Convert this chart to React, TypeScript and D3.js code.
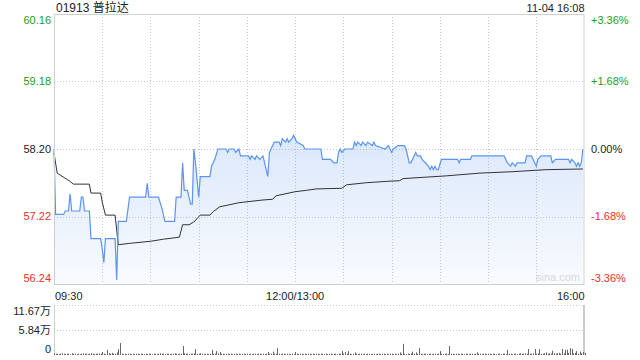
import React from "react";
import * as d3 from "d3";

const title = "01913 普拉达";
const stamp = "11-04 16:08";
const priceTicks = [60.16, 59.18, 58.2, 57.22, 56.24];
const pctTicks = ["+3.36%", "+1.68%", "0.00%", "-1.68%", "-3.36%"];
const timeLabelMinutes = [0, 150, 330];
const timeLabels = ["09:30", "12:00/13:00", "16:00"];
const volTickValues = [116700, 58400, 0];
const volTickLabels = ["11.67万", "5.84万", "0"];

// minute offsets (trading minutes since 09:30) and last prices
const priceMinutes = [0,1,6,7,9,10,11,16,17,18,19,22,23,29,30,31,32,38,39,40,45,47,57,58,59,65,67,69,75,76,79,80,81,83,85,86,87,88,90,91,97,98,100,102,107,108,109,112,113,115,116,121,122,123,125,126,128,130,132,133,134,135,137,140,141,142,144,145,146,148,149,151,155,156,166,167,169,172,174,176,177,178,179,181,186,187,188,189,191,192,194,195,198,199,200,206,208,209,210,211,214,218,219,221,222,225,226,228,229,231,233,234,235,236,237,238,239,241,251,252,253,259,260,280,282,284,285,287,288,293,294,297,299,300,301,303,309,310,312,320,321,322,324,325,326,327,328,329];
const priceValues = [58.2,57.25,57.25,57.3,57.3,57.55,57.3,57.3,57.5,57.5,57.3,57.3,56.9,56.9,56.75,56.55,56.9,56.9,56.3,57.15,57.15,57.5,57.5,57.7,57.5,57.5,57.35,57.15,57.15,57.5,57.5,58.0,57.6,57.6,57.4,57.4,58.2,58.0,57.5,57.8,57.8,57.95,58.05,58.2,58.2,58.15,58.2,58.2,58.15,58.2,58.1,58.1,58.05,58.1,58.05,58.1,58.05,58.1,57.9,57.8,58.15,58.2,58.3,58.3,58.25,58.35,58.3,58.35,58.3,58.35,58.4,58.3,58.25,58.2,58.2,58.05,58.05,58.05,58.0,58.0,58.15,58.2,58.15,58.2,58.2,58.3,58.25,58.3,58.25,58.3,58.25,58.3,58.25,58.3,58.25,58.2,58.25,58.2,58.15,58.2,58.25,58.25,58.2,58.0,58.0,58.15,58.1,58.1,58.05,58.0,57.95,57.9,57.95,57.9,57.95,57.9,57.9,58.05,58.05,58.0,58.05,58.05,58.1,58.1,58.0,57.95,58.0,57.95,58.0,58.0,58.1,58.1,58.0,57.95,58.05,58.1,58.1,58.0,58.05,58.05,58.0,58.05,58.0,57.95,58.0,57.95,58.0,58.2];

const avgMinutes = [0,2,10,12,22,23,29,30,32,38,40,47,60,68,78,80,84,87,91,97,99,103,115,130,136,138,150,157,163,179,182,194,207,215,217,244,265,285,306,329];
const avgValues = [58.14,57.85,57.73,57.69,57.69,57.56,57.56,57.43,57.24,57.24,56.81,56.83,56.86,56.89,56.92,57.1,57.1,57.14,57.24,57.24,57.29,57.36,57.42,57.46,57.47,57.52,57.58,57.6,57.62,57.63,57.68,57.71,57.73,57.74,57.77,57.81,57.85,57.87,57.9,57.91];

// per-minute volume, thousands of shares (minute 0..330)
const volumeK = [
  4,3,3,2,3,4,3,2,3,3,2,4,3,3,2,3,2,3,4,3,3,2,3,4,3,2,3,3,4,3,
  7,3,2,12,4,3,5,3,3,6,14,28,3,2,3,2,3,3,2,3,2,3,3,2,3,3,2,3,2,3,
  3,2,3,3,2,3,4,3,3,2,3,3,2,3,3,4,3,2,3,3,21,4,3,3,2,3,3,4,14,3,
  3,4,3,2,3,3,2,3,12,3,3,9,4,7,3,3,2,3,3,2,3,2,3,3,2,3,2,3,3,2,
  3,2,3,2,3,3,2,3,3,2,3,2,3,7,3,3,8,3,3,16,3,2,3,3,2,3,3,2,3,2,
  7,3,2,3,3,2,3,2,3,3,2,3,2,3,3,2,3,3,2,3,2,3,3,2,3,3,2,3,3,9,
  3,7,3,9,3,2,3,6,3,2,3,3,2,3,2,3,3,2,3,3,2,3,3,2,3,3,2,3,2,3,
  3,2,3,2,3,6,3,26,3,2,3,3,4,8,3,6,3,16,3,2,3,3,2,3,3,2,3,3,2,3,
  9,3,2,3,3,2,21,3,3,2,3,3,2,3,3,2,3,3,2,3,3,2,3,6,3,3,2,3,3,2,
  3,3,2,3,3,2,3,3,2,3,3,2,12,3,3,2,3,3,2,3,4,3,3,4,3,14,3,3,4,14,
  3,4,14,3,3,4,6,3,4,3,10,4,3,4,5,3,14,4,12,12,5,16,14,4,5,9,3,8,4,7,
  5
];

const FONT = "Arial, 'Liberation Sans', 'Noto Sans CJK SC', sans-serif";
const GREEN = "#1a9e1a";
const RED = "#e8302a";
const GRID = "#c8c8c8";
const BORDER = "#cfcfcf";

export default function App() {
  const left = 54, right = 584.5, top = 14, bottom = 284;
  const vTop = 305, vBottom = 355;

  const x = d3.scaleLinear().domain([0, 330]).range([left, right]);
  const y = d3.scaleLinear().domain([56.24, 60.16]).range([bottom, top]);
  const yv = d3.scaleLinear().domain([0, 116700]).range([vBottom, vTop]);

  const price = priceMinutes.map((m, i) => ({ m, v: priceValues[i] }));
  const avg = avgMinutes.map((m, i) => ({ m, v: avgValues[i] }));

  const line = d3.line<{ m: number; v: number }>().x(d => x(d.m)).y(d => y(d.v));
  const area = d3.area<{ m: number; v: number }>().x(d => x(d.m)).y0(bottom).y1(d => y(d.v));

  const gridMinutes = d3.range(30, 330, 30);
  const labelY = (i: number, n: number, pos: number) => (i === 0 ? pos + 6 : i === n - 1 ? pos - 6 : pos);
  const priceColor = (i: number) => (i < 2 ? GREEN : i === 2 ? "#222" : RED);

  return (
    <svg width={640} height={360} style={{ position: "absolute", left: 0, top: 0, display: "block", background: "#fff" }} fontFamily={FONT}>
      <defs>
        <linearGradient id="fillg" x1="0" y1="0" x2="0" y2="1">
          <stop offset="0%" stopColor="#5b95f0" stopOpacity={0.22} />
          <stop offset="100%" stopColor="#5b95f0" stopOpacity={0.04} />
        </linearGradient>
      </defs>

      <text x={56} y={12} fontSize={12} fill="#222">{title}</text>
      <text x={right} y={12} fontSize={11} fill="#222" textAnchor="end">{stamp}</text>

      {/* grid */}
      {gridMinutes.map(m => (
        <line key={"vg" + m} x1={Math.round(x(m)) + 0.5} x2={Math.round(x(m)) + 0.5} y1={top} y2={bottom} stroke={GRID} strokeDasharray="1,2" />
      ))}
      {priceTicks.slice(1, -1).map(p => (
        <line key={"hg" + p} x1={left} x2={right} y1={Math.round(y(p)) + 0.5} y2={Math.round(y(p)) + 0.5} stroke={GRID} strokeDasharray="1,2" />
      ))}

      {/* area and lines */}
      <path d={area(price) || ""} fill="url(#fillg)" />
      <path d={line(avg) || ""} fill="none" stroke="#333" strokeWidth={1} />
      <path d={line(price) || ""} fill="none" stroke="#5b95f0" strokeWidth={1.2} />

      {/* border */}
      <rect x={left + 0.5} y={top + 0.5} width={right - left - 1} height={bottom - top} fill="none" stroke={BORDER} />

      <text x={580} y={281} fontSize={11} fill="#d8d8d8" textAnchor="end">sina.com</text>

      {/* y labels */}
      {priceTicks.map((p, i) => (
        <text key={"pl" + i} x={51} y={labelY(i, priceTicks.length, y(p))} dy="0.35em" fontSize={11} fill={priceColor(i)} textAnchor="end">
          {p.toFixed(2)}
        </text>
      ))}
      {pctTicks.map((s, i) => (
        <text key={"pc" + i} x={591} y={labelY(i, pctTicks.length, y(priceTicks[i]))} dy="0.35em" fontSize={11} fill={priceColor(i)}>
          {s}
        </text>
      ))}

      {/* time labels */}
      {timeLabels.map((s, i) => (
        <text key={"tl" + i} x={i === 0 ? left + 1 : x(timeLabelMinutes[i])} y={300} fontSize={11} fill="#222"
          textAnchor={i === 0 ? "start" : i === timeLabels.length - 1 ? "end" : "middle"}>
          {s}
        </text>
      ))}

      {/* volume panel */}
      {volTickValues.slice(0, 2).map(v => (
        <line key={"vv" + v} x1={left} x2={right} y1={Math.round(yv(v)) + 0.5} y2={Math.round(yv(v)) + 0.5} stroke={GRID} strokeDasharray="1,2" />
      ))}
      <line x1={left + 0.5} x2={left + 0.5} y1={vTop} y2={vBottom} stroke={BORDER} />
      <line x1={right - 0.5} x2={right - 0.5} y1={vTop} y2={vBottom} stroke="#999" />
      {volumeK.map((v, i) => (
        <line key={"vb" + i} x1={Math.round(x(i)) + 0.5} x2={Math.round(x(i)) + 0.5} y1={vBottom} y2={yv(v * 1000)} stroke="#666" strokeWidth={1} />
      ))}
      {volTickLabels.map((s, i) => (
        <text key={"vl" + i} x={51} y={labelY(i, volTickLabels.length, yv(volTickValues[i]))} dy="0.35em" fontSize={11} fill="#222" textAnchor="end">
          {s}
        </text>
      ))}
    </svg>
  );
}
